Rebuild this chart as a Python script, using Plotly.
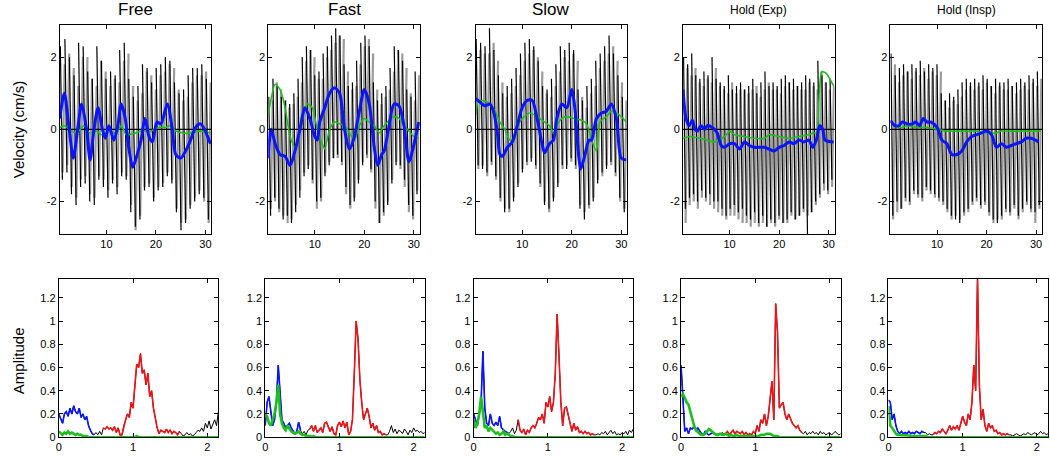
import numpy as np
import plotly.graph_objects as go

W, H = 1050, 457
FONT = "Liberation Sans, Arial, sans-serif"

titles = ["Free", "Fast", "Slow", "Hold (Exp)", "Hold (Insp)"]
title_sizes = [17, 17, 17, 12, 12]

# ---------------- Velocity (top row) ----------------
# black / gray pulse extrema (alternating maxima and minima along the 30 s record)
free_black_hi = [2.3,2.5,2.0,1.5,2.4,2.3,1.6,1.4,2.3,1.9,1.4,1.6,1.5,2.2,2.4,1.4,0.9,1.2,1.8,1.7,1.3,1.7,1.8,2.0,1.9,1.3,1.0,1.1,1.5,1.7,1.7,1.8,1.4]
free_black_lo = [-1.4,-1.2,-1.8,-2.1,-1.6,-1.5,-2.0,-2.1,-1.4,-1.6,-1.9,-1.5,-1.8,-1.3,-1.4,-2.3,-2.7,-2.5,-1.7,-1.6,-2.0,-1.7,-1.6,-1.3,-1.5,-2.3,-2.8,-2.6,-2.2,-2.0,-1.8,-1.9,-2.5]
free_gray_hi = [1.8,2.1,1.7,1.2,2.0,2.0,1.4,1.2,1.9,1.6,1.2,1.4,1.3,1.9,2.1,1.2,0.8,1.0,1.6,1.5,1.1,1.5,1.6,1.8,1.7,1.1,0.8,0.9,1.3,1.5,1.5,1.6,1.3]
free_gray_lo = [-1.2,-1.0,-1.6,-1.9,-1.4,-1.3,-1.8,-1.9,-1.3,-1.4,-1.7,-1.4,-1.6,-1.2,-1.3,-2.1,-2.8,-2.4,-1.6,-1.5,-1.9,-1.6,-1.5,-1.2,-1.4,-2.2,-2.6,-2.5,-2.1,-1.9,-1.7,-2.0,-2.6]

fast_black_hi = [0.9,1.4,1.2,0.9,0.8,0.7,1.0,1.4,2.0,2.3,2.2,1.5,1.6,2.1,2.3,2.6,2.8,2.6,1.8,1.2,1.3,1.9,2.4,2.6,2.3,1.3,0.8,1.0,1.2,1.7,2.3,2.2,1.9,1.1,0.9,1.6]
fast_black_lo = [-2.4,-1.9,-2.2,-2.5,-2.4,-2.6,-2.3,-1.9,-1.3,-1.1,-1.4,-2.0,-1.9,-1.3,-1.0,-0.8,-0.7,-0.9,-1.6,-2.1,-2.0,-1.5,-1.0,-0.7,-1.1,-2.0,-2.6,-2.3,-2.1,-1.5,-1.0,-1.0,-1.4,-2.1,-2.4,-1.8]
fast_gray_hi = [0.8,1.3,1.1,0.8,0.6,0.7,0.9,1.3,1.9,2.2,2.0,1.4,1.4,2.0,2.2,2.4,2.6,2.5,1.6,1.1,1.2,1.8,2.3,2.5,2.1,1.1,0.7,0.9,1.1,1.6,2.2,2.1,1.7,1.0,0.8,1.5]
fast_gray_lo = [-2.2,-2.0,-2.3,-2.4,-2.6,-2.5,-2.1,-1.7,-1.2,-1.0,-1.5,-2.2,-2.0,-1.2,-0.9,-0.8,-0.8,-1.0,-1.8,-2.2,-1.9,-1.4,-0.9,-0.8,-1.2,-2.2,-2.6,-2.4,-2.0,-1.4,-0.9,-1.1,-1.6,-2.3,-2.5,-1.7]

slow_black_hi = [2.5,2.4,2.3,2.8,2.2,1.5,1.0,1.2,1.4,1.7,2.1,2.4,2.5,2.3,1.9,1.2,1.1,1.4,1.8,2.3,2.2,2.4,2.2,1.1,0.8,1.2,1.4,1.9,2.1,2.3,2.6,2.1,1.5,0.9]
slow_black_lo = [-1.0,-1.1,-1.2,-0.9,-1.3,-1.9,-2.3,-2.2,-2.0,-1.6,-1.2,-0.9,-0.9,-1.0,-1.5,-2.1,-2.2,-2.0,-1.6,-1.0,-1.1,-0.8,-1.0,-2.2,-2.5,-2.1,-2.0,-1.5,-1.2,-1.1,-0.9,-1.2,-1.9,-2.3]
slow_gray_hi = [2.2,2.1,2.1,2.4,1.9,1.3,0.9,1.0,1.2,1.5,1.9,2.1,2.2,2.0,1.6,1.0,0.9,1.2,1.6,2.0,1.9,2.1,1.9,0.9,0.6,1.0,1.2,1.7,1.9,2.1,2.3,1.9,1.3,0.8]
slow_gray_lo = [-1.1,-1.0,-1.3,-1.0,-1.4,-2.0,-2.2,-2.3,-1.9,-1.5,-1.1,-1.0,-0.8,-1.1,-1.6,-2.0,-2.3,-1.9,-1.5,-1.1,-1.0,-0.9,-1.1,-2.1,-2.3,-2.2,-1.9,-1.4,-1.3,-1.0,-1.0,-1.3,-2.0,-2.2]

hexp_black_hi = [2.0,1.8,2.1,1.5,1.4,1.6,1.5,2.0,1.4,1.3,1.2,1.5,1.1,1.2,1.3,1.1,1.2,1.4,1.0,1.3,1.6,1.2,1.3,1.2,1.4,1.5,1.3,1.4,1.2,1.3,1.5,1.4,1.3,1.9,1.5,1.3,1.4]
hexp_black_lo = [-2.2,-1.9,-1.8,-2.0,-1.7,-1.9,-1.8,-2.0,-2.0,-2.2,-2.4,-2.2,-2.1,-2.3,-2.2,-2.4,-2.5,-2.3,-2.6,-2.4,-2.7,-2.5,-2.6,-2.4,-2.6,-2.5,-2.3,-2.5,-2.4,-2.2,-2.9,-2.3,-2.0,-1.8,-1.5,-1.7,-1.4]
hexp_gray_hi = [1.7,1.5,1.7,1.3,1.2,1.4,1.3,1.7,1.2,1.1,1.0,1.3,1.0,1.1,1.1,1.0,1.1,1.2,0.9,1.1,1.3,1.1,1.1,1.0,1.2,1.3,1.1,1.2,1.1,1.1,1.3,1.2,1.1,1.6,1.3,1.1,1.2]
hexp_gray_lo = [-2.6,-2.1,-2.0,-2.2,-1.9,-2.0,-2.1,-2.2,-2.3,-2.4,-2.5,-2.4,-2.4,-2.5,-2.6,-2.6,-2.7,-2.6,-2.7,-2.6,-2.7,-2.6,-2.7,-2.5,-2.6,-2.6,-2.4,-2.5,-2.4,-2.3,-2.4,-2.3,-2.1,-1.9,-1.7,-1.8,-1.6]

hins_black_hi = [2.1,1.5,1.7,1.8,1.6,1.8,1.7,1.9,1.6,1.8,1.7,1.8,1.0,0.8,1.0,0.9,1.1,1.3,1.4,1.3,1.4,1.3,1.5,1.4,1.2,1.4,1.3,1.3,1.4,1.2,1.3,1.4,1.3,1.5,1.4,1.6]
hins_black_lo = [-2.4,-2.0,-2.2,-1.9,-2.0,-1.7,-1.8,-1.9,-1.6,-1.7,-1.8,-1.9,-2.0,-2.2,-2.4,-2.5,-2.6,-2.3,-2.2,-2.0,-1.9,-2.1,-2.0,-2.3,-2.5,-2.6,-2.4,-2.2,-2.3,-2.1,-2.4,-2.2,-2.0,-2.2,-2.3,-2.1]
hins_gray_hi = [1.8,1.3,1.5,1.6,1.4,1.6,1.5,1.7,1.4,1.6,1.5,1.6,0.8,0.6,0.8,0.7,0.9,1.1,1.2,1.1,1.2,1.1,1.3,1.2,1.0,1.2,1.1,1.1,1.2,1.0,1.1,1.2,1.1,1.3,1.2,1.4]
hins_gray_lo = [-2.5,-2.3,-2.2,-2.0,-2.1,-1.8,-1.9,-2.0,-1.7,-1.8,-1.9,-2.0,-2.1,-2.3,-2.5,-2.4,-2.5,-2.4,-2.3,-2.1,-2.0,-2.2,-2.1,-2.4,-2.6,-2.5,-2.5,-2.3,-2.4,-2.2,-2.5,-2.3,-2.1,-2.3,-2.6,-2.2]

# smooth (low-pass) blue and green traces: time keypoints and values
free_blue_t = [0.6,1.5,2.5,3.3,4.2,5.0,6.0,6.7,7.5,8.3,9.2,9.8,10.5,11.5,12.3,13.0,13.8,14.5,15.3,16.0,17.0,17.8,18.6,19.3,20.2,21.0,22.3,23.3,24.0,25.0,26.0,27.0,28.0,29.0,29.8,31.0]
free_blue_v = [0.3,1.0,0.0,-0.8,0.0,0.7,0.0,-0.85,0.0,0.6,0.0,-0.25,0.1,-0.3,0.1,0.7,0.3,-0.5,-1.05,-0.8,-0.3,0.3,-0.2,-0.35,0.2,0.15,0.7,0.0,-0.7,-0.8,-0.6,-0.3,0.05,0.15,0.0,-0.4]
free_green_t = [0.6,1.5,3.0,4.0,5.5,6.5,8.0,9.0,10.5,12.0,13.0,14.0,16.0,17.0,19.0,20.5,22.0,22.7,24.0,25.5,27.0,29.0,31.0]
free_green_v = [0.05,0.1,-0.05,-0.1,0.1,-0.1,-0.05,-0.15,-0.05,-0.1,0.1,-0.15,-0.1,-0.05,-0.05,0.05,0.05,0.1,-0.05,-0.1,-0.1,-0.05,-0.1]

fast_blue_t = [0.6,1.2,2.0,3.0,4.0,5.0,6.0,7.0,8.0,9.0,10.0,10.5,11.0,12.0,13.0,14.0,15.0,16.0,17.0,18.0,19.0,20.0,21.0,22.0,22.7,23.5,24.0,25.0,26.0,27.0,28.0,29.0,29.7,31.0]
fast_blue_v = [-0.8,0.0,-0.4,-0.7,-0.75,-1.0,-0.6,0.0,0.6,0.3,-0.2,-0.3,0.2,0.6,1.0,1.15,1.0,0.0,-0.55,-0.2,0.5,1.1,0.7,-0.5,-1.0,-0.7,-0.6,0.1,0.7,0.65,0.1,-0.9,-0.6,0.2]
fast_green_t = [0.6,2.0,3.0,4.0,5.0,6.0,7.0,8.5,9.5,10.5,11.5,12.0,13.0,14.0,15.0,16.0,17.0,18.0,19.0,20.0,21.0,22.0,23.0,24.0,26.0,27.0,28.0,29.0,30.0,31.0]
fast_green_v = [0.4,1.25,1.1,0.6,-0.2,-0.5,0.0,0.7,0.6,0.0,-0.4,-0.55,0.0,0.2,0.15,0.1,-0.1,-0.3,0.1,0.3,0.2,0.1,-0.1,0.1,0.35,0.3,0.1,-0.05,-0.2,-0.25]

slow_blue_t = [0.6,1.5,2.5,3.5,4.2,5.0,5.5,6.0,7.0,8.0,9.0,10.0,11.0,12.0,13.0,14.0,14.5,15.5,16.3,17.0,18.0,19.0,20.0,20.7,21.3,21.8,22.5,23.5,24.0,25.0,26.0,27.0,28.0,29.0,30.0,31.0]
slow_blue_v = [0.85,0.75,0.65,0.7,0.5,-0.1,-0.7,-0.75,-0.5,-0.35,0.1,0.6,0.8,0.8,0.3,-0.4,-0.65,-0.4,-0.3,0.3,0.7,0.6,1.1,0.5,-0.6,-1.1,-0.8,-0.3,-0.3,0.3,0.45,0.5,0.7,0.3,-0.8,-0.85]
slow_green_t = [0.6,1.2,3.0,4.5,5.5,6.5,7.5,8.5,9.0,10.0,11.5,13.0,14.5,15.5,16.5,17.0,18.0,19.0,20.5,22.0,23.0,24.0,25.0,25.7,27.0,28.0,29.0,30.0,31.0]
slow_green_v = [0.4,0.8,0.75,0.5,0.2,0.0,-0.3,-0.25,0.05,0.3,0.45,0.35,0.2,0.1,-0.15,0.1,0.3,0.35,0.3,0.25,0.15,-0.3,-0.6,0.2,0.35,0.5,0.45,0.35,0.2]

hexp_blue_t = [0.6,1.2,1.8,2.5,3.0,3.5,4.2,5.0,5.5,6.5,7.5,8.3,9.0,10.0,11.0,12.0,13.0,14.0,15.0,16.0,17.0,18.0,19.0,20.0,21.0,22.0,23.0,24.0,25.0,26.0,26.8,27.5,28.2,28.8,29.3,31.0]
hexp_blue_v = [1.1,0.3,0.1,0.25,0.0,-0.05,0.1,0.0,0.1,0.05,-0.1,-0.45,-0.5,-0.4,-0.4,-0.55,-0.35,-0.45,-0.5,-0.5,-0.5,-0.55,-0.6,-0.5,-0.45,-0.35,-0.4,-0.3,-0.35,-0.3,-0.5,-0.3,0.1,0.0,-0.3,-0.35]
hexp_green_t = [0.6,2.0,4.0,5.5,7.0,9.0,10.0,11.0,13.0,15.0,17.0,18.0,20.0,22.0,24.0,26.0,27.0,27.6,28.1,28.6,29.5,31.0]
hexp_green_v = [-0.25,-0.2,-0.25,-0.3,-0.35,-0.2,-0.05,-0.15,-0.2,-0.25,-0.25,-0.15,-0.2,-0.25,-0.2,-0.15,-0.1,-0.1,1.0,1.6,1.55,1.2]

hins_blue_t = [0.6,1.5,2.3,3.0,4.0,5.0,5.7,6.5,7.2,8.0,8.8,10.0,11.0,12.0,13.0,14.0,15.0,16.0,17.0,18.0,19.0,20.0,21.0,22.0,23.0,24.0,25.0,26.0,27.0,28.0,29.0,30.5]
hins_blue_v = [0.25,0.1,0.1,0.2,0.15,0.15,0.2,0.1,0.3,0.2,0.2,0.05,-0.3,-0.4,-0.7,-0.7,-0.6,-0.35,-0.2,-0.15,-0.1,-0.05,-0.15,-0.5,-0.4,-0.5,-0.45,-0.4,-0.35,-0.25,-0.25,-0.35]
hins_green_t = [0.6,1.5,3.0,4.0,6.0,8.0,10.0,12.0,14.0,16.0,18.0,20.0,22.0,23.0,25.0,27.0,29.0,31.0]
hins_green_v = [0.2,0.1,0.05,0.1,0.05,0.05,0.0,-0.05,-0.05,-0.05,-0.05,-0.1,-0.1,-0.05,-0.05,-0.05,-0.05,-0.05]

# ---------------- Amplitude spectra (bottom row), 0.025 Hz bins from 0 Hz -----------
free_spec = [0.2,0.15,0.12,0.2,0.22,0.18,0.25,0.2,0.27,0.22,0.2,0.25,0.17,0.2,0.15,0.18,0.1,0.06,0.03,0.02,
             0.04,0.02,0.05,0.02,
             0.08,0.07,0.09,0.07,0.08,0.06,0.09,0.04,0.08,0.02,0.02,0.1,0.15,0.2,0.17,0.3,0.25,0.45,0.63,0.6,0.72,0.55,0.58,0.45,0.55,0.35,0.4,0.25,0.15,0.08,0.03,0.06,0.05,0.04,0.07,0.04,0.06,0.03,0.05,0.04,0.02,0.05,
             0.03,0.01,0.02,0.04,0.02,0.03,0.01,0.02,0.04,0.06,0.05,0.08,0.05,0.12,0.08,0.14,0.07,0.12,0.15,0.1,0.22]
free_green = [0.05,0.03,0.02,0.04,0.03,0.05,0.03,0.04,0.03,0.02,0.03,0.02,0.02,0.01,0.01,0.01,0.0,0.0,0.0,0.0,
              0.0,0.0,0.0,0.0,0.0,0.0,0.0,0.0,0.0,0.0,0.0,0.0,0.0,0.0,0.0,0.0,0.0,0.0,0.0,0.0,0.0,0.0,0.01,0.0,0.0,0.0,0.0,0.0,0.0,0.0,
              0.0,0.0,0.0,0.0,0.0,0.0,0.0,0.0,0.0,0.0,0.0,0.0,0.0,0.0,0.0,0.0,0.0,0.0,0.0,0.0,0.0,0.0,0.0,0.0,0.0,0.0,0.0,0.0,0.0,0.0,0.0,0.0,0.0,0.0,0.0,0.0,0.0]

fast_spec = [0.1,0.3,0.35,0.2,0.1,0.15,0.3,0.62,0.4,0.15,0.12,0.08,0.1,0.12,0.08,0.05,0.03,0.05,0.13,0.06,
             0.03,0.05,0.02,0.06,
             0.07,0.1,0.05,0.1,0.04,0.06,0.08,0.04,0.12,0.13,0.08,0.05,0.09,0.03,0.02,0.1,0.13,0.09,0.14,0.08,0.13,0.02,0.05,0.15,0.55,1.0,0.85,0.5,0.3,0.15,0.2,0.25,0.18,0.08,0.12,0.06,0.1,0.04,0.05,0.02,0.03,0.02,
             0.02,0.05,0.1,0.04,0.07,0.03,0.06,0.05,0.03,0.07,0.05,0.02,0.06,0.04,0.08,0.05,0.06,0.04,0.05,0.03,0.04]
fast_green = [0.2,0.18,0.12,0.1,0.15,0.2,0.3,0.45,0.2,0.12,0.08,0.06,0.1,0.07,0.05,0.04,0.03,0.04,0.05,0.03,
              0.02,0.02,0.01,0.01,0.01,0.0,0.01,0.0,0.0,0.0,0.0,0.0,0.0,0.0,0.0,0.0,0.0,0.0,0.0,0.0,0.0,0.0,0.0,0.0,0.0,0.0,0.0,0.0,0.0,0.0,
              0.0,0.0,0.0,0.0,0.0,0.0,0.0,0.0,0.0,0.0,0.0,0.0,0.0,0.0,0.0,0.0,0.0,0.0,0.0,0.0,0.0,0.0,0.0,0.0,0.0,0.0,0.0,0.0,0.0,0.0,0.0,0.0,0.0,0.0,0.0,0.0,0.0]

slow_spec = [0.2,0.15,0.1,0.2,0.3,0.74,0.25,0.12,0.1,0.2,0.12,0.1,0.13,0.1,0.18,0.08,0.06,0.05,0.04,0.03,
             0.05,0.08,0.03,0.06,
             0.15,0.06,0.04,0.07,0.02,0.06,0.04,0.08,0.1,0.08,0.12,0.17,0.15,0.2,0.12,0.3,0.26,0.35,0.22,0.3,0.55,1.06,0.7,0.3,0.1,0.25,0.26,0.18,0.1,0.05,0.12,0.06,0.09,0.04,0.05,0.03,0.05,0.03,0.04,0.02,0.03,0.02,
             0.02,0.03,0.02,0.04,0.03,0.05,0.02,0.04,0.06,0.03,0.05,0.02,0.03,0.02,0.04,0.03,0.05,0.02,0.06,0.04,0.07]
slow_green = [0.15,0.08,0.12,0.2,0.35,0.22,0.08,0.1,0.05,0.08,0.06,0.04,0.03,0.04,0.02,0.03,0.05,0.02,0.03,0.02,
              0.01,0.01,0.0,0.0,0.0,0.0,0.0,0.0,0.0,0.0,0.0,0.0,0.0,0.0,0.0,0.0,0.0,0.0,0.0,0.0,0.0,0.0,0.0,0.0,0.0,0.0,0.0,0.0,0.0,0.0,
              0.0,0.0,0.0,0.0,0.0,0.0,0.0,0.0,0.0,0.0,0.0,0.0,0.0,0.0,0.0,0.0,0.0,0.0,0.0,0.0,0.0,0.0,0.0,0.0,0.0,0.0,0.0,0.0,0.0,0.0,0.0,0.0,0.0,0.0,0.0,0.0,0.0]

hexp_spec = [0.62,0.3,0.05,0.08,0.03,0.08,0.07,0.09,0.06,0.08,0.05,0.03,0.02,0.05,0.03,0.02,0.03,0.04,0.03,0.02,
             0.03,0.02,0.04,0.03,
             0.03,0.05,0.02,0.04,0.06,0.03,0.05,0.04,0.03,0.05,0.02,0.04,0.02,0.03,0.02,0.05,0.03,0.1,0.05,0.15,0.12,0.2,0.1,0.18,0.35,0.48,0.15,1.15,0.9,0.25,0.28,0.3,0.2,0.15,0.2,0.15,0.12,0.1,0.08,0.1,0.06,0.04,
             0.03,0.05,0.02,0.04,0.03,0.05,0.03,0.04,0.02,0.05,0.03,0.04,0.02,0.03,0.04,0.02,0.03,0.05,0.03,0.02,0.03]
hexp_green = [0.35,0.37,0.34,0.3,0.28,0.22,0.15,0.1,0.06,0.04,0.03,0.02,0.02,0.03,0.05,0.07,0.06,0.04,0.03,0.02,
              0.02,0.03,0.02,0.02,0.03,0.02,0.01,0.02,0.01,0.01,0.02,0.01,0.01,0.01,0.01,0.01,0.01,0.01,0.01,0.01,0.01,0.01,0.01,0.02,0.02,0.02,0.03,0.03,0.03,0.02,
              0.01,0.01,0.01,0.0,0.0,0.0,0.0,0.0,0.0,0.0,0.0,0.0,0.0,0.0,0.0,0.0,0.0,0.0,0.0,0.0,0.0,0.0,0.0,0.0,0.0,0.0,0.0,0.0,0.0,0.0,0.0,0.0,0.0,0.0,0.0,0.0,0.0]

hins_spec = [0.32,0.3,0.15,0.2,0.1,0.05,0.03,0.05,0.03,0.04,0.03,0.05,0.03,0.04,0.03,0.05,0.04,0.03,0.05,0.04,
             0.04,0.02,0.03,0.02,
             0.02,0.04,0.03,0.05,0.04,0.07,0.05,0.03,0.06,0.1,0.06,0.09,0.07,0.1,0.06,0.12,0.18,0.13,0.1,0.2,0.15,0.3,0.62,0.4,1.38,0.45,0.15,0.24,0.1,0.05,0.12,0.08,0.1,0.05,0.06,0.03,0.04,0.02,0.03,0.02,0.03,0.02,
             0.02,0.01,0.02,0.03,0.02,0.01,0.02,0.03,0.02,0.04,0.03,0.02,0.03,0.04,0.02,0.03,0.05,0.03,0.04,0.02,0.03]
hins_green = [0.27,0.1,0.08,0.05,0.03,0.02,0.02,0.02,0.02,0.02,0.02,0.015,0.01,0.01,0.01,0.01,0.01,0.01,0.01,0.01,
              0.01,0.0,0.0,0.0,0.0,0.0,0.0,0.0,0.0,0.0,0.0,0.0,0.0,0.0,0.0,0.0,0.0,0.0,0.0,0.0,0.0,0.0,0.0,0.0,0.0,0.0,0.0,0.0,0.0,0.0,
              0.0,0.0,0.0,0.0,0.0,0.0,0.0,0.0,0.0,0.0,0.0,0.0,0.0,0.0,0.0,0.0,0.0,0.0,0.0,0.0,0.0,0.0,0.0,0.0,0.0,0.0,0.0,0.0,0.0,0.0,0.0,0.0,0.0,0.0,0.0,0.0,0.0]

DF = 0.025
RESP_MAX = 0.49           # blue band upper edge (Hz)
CARD_BAND = (0.59, 1.64)  # red band (Hz)

panels = [
    dict(bh=free_black_hi, bl=free_black_lo, gh=free_gray_hi, gl=free_gray_lo,
         blt=free_blue_t, blv=free_blue_v, grt=free_green_t, grv=free_green_v,
         spec=free_spec, sgreen=free_green),
    dict(bh=fast_black_hi, bl=fast_black_lo, gh=fast_gray_hi, gl=fast_gray_lo,
         blt=fast_blue_t, blv=fast_blue_v, grt=fast_green_t, grv=fast_green_v,
         spec=fast_spec, sgreen=fast_green),
    dict(bh=slow_black_hi, bl=slow_black_lo, gh=slow_gray_hi, gl=slow_gray_lo,
         blt=slow_blue_t, blv=slow_blue_v, grt=slow_green_t, grv=slow_green_v,
         spec=slow_spec, sgreen=slow_green),
    dict(bh=hexp_black_hi, bl=hexp_black_lo, gh=hexp_gray_hi, gl=hexp_gray_lo,
         blt=hexp_blue_t, blv=hexp_blue_v, grt=hexp_green_t, grv=hexp_green_v,
         spec=hexp_spec, sgreen=hexp_green),
    dict(bh=hins_black_hi, bl=hins_black_lo, gh=hins_gray_hi, gl=hins_gray_lo,
         blt=hins_blue_t, blv=hins_blue_v, grt=hins_green_t, grv=hins_green_v,
         spec=hins_spec, sgreen=hins_green),
]

T_START, T_END = 0.6, 31.2
VY = (-2.9, 2.9)
FX = (0, 2.15)
FY = (0, 1.36)

BLUE = "rgb(10,20,255)"
GREEN = "rgb(30,190,30)"
RED = "rgb(235,20,25)"
GRAY = "rgb(155,155,155)"

# layout geometry in pixels
top_left = [57, 266, 474, 682, 890]
top_w = 152
bot_left = [56, 263, 472, 680, 888]
bot_w = 160
top_y = (25, 237)
bot_y = (283, 443)


def px_dom_x(l, w):
    return [l / W, (l + w) / W]


def px_dom_y(t, b):
    return [1 - b / H, 1 - t / H]


def strokes(t_from, v_from, t_to, v_to):
    """Separate line segments (with gaps) from (t_from, v_from) to (t_to, v_to)."""
    xs, ys = [], []
    for a, b, c, d in zip(t_from, v_from, t_to, v_to):
        xs += [a, c, None]
        ys += [b, d, None]
    return xs, ys


fig = go.Figure()
layout = dict(width=W, height=H, margin=dict(l=0, r=0, t=0, b=0),
              paper_bgcolor="white", plot_bgcolor="white", showlegend=False,
              font=dict(family=FONT, color="black"))

axis_common = dict(showline=True, linecolor="black", linewidth=1, mirror="ticks",
                   ticks="inside", ticklen=4, tickcolor="black", tickwidth=1,
                   showgrid=False, zeroline=False, tickfont=dict(size=11, family=FONT, color="black"))

annotations = []
for i, p in enumerate(panels):
    ta = i + 1
    ba = i + 6
    xs_t = "x" if ta == 1 else f"x{ta}"
    ys_t = "y" if ta == 1 else f"y{ta}"
    xs_b = f"x{ba}"
    ys_b = f"y{ba}"

    # ---- top panel: pulse strokes (black falling, gray rising) ----
    n = len(p["bh"])
    period = (T_END - T_START - 0.2) / n
    tk = T_START + 0.1 + period * np.arange(n)
    bx, by = strokes(tk, p["bh"], tk + 0.45 * period, p["bl"])
    gx, gy = strokes(tk + 0.5 * period, p["gl"], tk + 0.95 * period, p["gh"])
    fig.add_trace(go.Scatter(x=gx, y=gy, mode="lines", line=dict(color=GRAY, width=2.2),
                             xaxis=xs_t, yaxis=ys_t, hoverinfo="skip"))
    fig.add_trace(go.Scatter(x=bx, y=by, mode="lines", line=dict(color="black", width=1.2),
                             xaxis=xs_t, yaxis=ys_t, hoverinfo="skip"))
    fig.add_trace(go.Scatter(x=[T_START, T_END], y=[0, 0], mode="lines",
                             line=dict(color="black", width=1.3), xaxis=xs_t, yaxis=ys_t, hoverinfo="skip"))
    fig.add_trace(go.Scatter(x=p["grt"], y=p["grv"], mode="lines",
                             line=dict(color=GREEN, width=1.6, shape="spline", smoothing=0.6),
                             xaxis=xs_t, yaxis=ys_t, hoverinfo="skip"))
    fig.add_trace(go.Scatter(x=p["blt"], y=p["blv"], mode="lines",
                             line=dict(color=BLUE, width=3, shape="spline", smoothing=0.8),
                             xaxis=xs_t, yaxis=ys_t, hoverinfo="skip"))

    # ---- bottom panel ----
    spec = np.array(p["spec"])
    f = np.arange(len(spec)) * DF
    g = np.array(p["sgreen"])
    fg = np.arange(len(g)) * DF
    resp = f <= RESP_MAX
    card = (f >= CARD_BAND[0]) & (f <= CARD_BAND[1])
    fig.add_trace(go.Scatter(x=f, y=spec, mode="lines", line=dict(color="black", width=1),
                             xaxis=xs_b, yaxis=ys_b, hoverinfo="skip"))
    fig.add_trace(go.Scatter(x=f[resp], y=spec[resp], mode="lines", line=dict(color=BLUE, width=1.6),
                             xaxis=xs_b, yaxis=ys_b, hoverinfo="skip"))
    fig.add_trace(go.Scatter(x=f[card], y=spec[card], mode="lines", line=dict(color=RED, width=1.6),
                             xaxis=xs_b, yaxis=ys_b, hoverinfo="skip"))
    fig.add_trace(go.Scatter(x=fg, y=g, mode="lines", line=dict(color=GREEN, width=2.6),
                             xaxis=xs_b, yaxis=ys_b, hoverinfo="skip"))

    kt = "xaxis" if ta == 1 else f"xaxis{ta}"
    kty = "yaxis" if ta == 1 else f"yaxis{ta}"
    layout[kt] = dict(axis_common, domain=px_dom_x(top_left[i], top_w), range=[T_START, T_END],
                      tickvals=[10, 20, 30], ticktext=["10", "20", "30"], anchor=ys_t)
    layout[kty] = dict(axis_common, domain=px_dom_y(*top_y), range=list(VY),
                       tickvals=[-2, 0, 2], ticktext=["-2", "0", "2"], anchor=xs_t)
    layout[f"xaxis{ba}"] = dict(axis_common, domain=px_dom_x(bot_left[i], bot_w), range=list(FX),
                                tickvals=[0, 1, 2], ticktext=["0", "1", "2"], anchor=ys_b)
    layout[f"yaxis{ba}"] = dict(axis_common, domain=px_dom_y(*bot_y), range=list(FY),
                                tickvals=[0, 0.2, 0.4, 0.6, 0.8, 1, 1.2],
                                ticktext=["0", "0.2", "0.4", "0.6", "0.8", "1", "1.2"], anchor=xs_b)

    annotations.append(dict(text=titles[i], x=(top_left[i] + top_w / 2) / W, y=1 - 10 / H,
                            xref="paper", yref="paper", showarrow=False, xanchor="center", yanchor="middle",
                            font=dict(size=title_sizes[i], family=FONT, color="black")))

annotations.append(dict(text="Velocity (cm/s)", x=15 / W, y=1 - 131 / H, xref="paper", yref="paper",
                        showarrow=False, textangle=-90, xanchor="center", yanchor="middle",
                        font=dict(size=15, family=FONT, color="black")))
annotations.append(dict(text="Amplitude", x=15 / W, y=1 - 365 / H, xref="paper", yref="paper",
                        showarrow=False, textangle=-90, xanchor="center", yanchor="middle",
                        font=dict(size=15, family=FONT, color="black")))
layout["annotations"] = annotations

fig.update_layout(**layout)
fig.write_html("out.html",
               config={"displayModeBar": False},
               post_script="document.body.style.margin='0px';document.body.style.padding='0px';"
                           "document.body.style.overflow='hidden';")
